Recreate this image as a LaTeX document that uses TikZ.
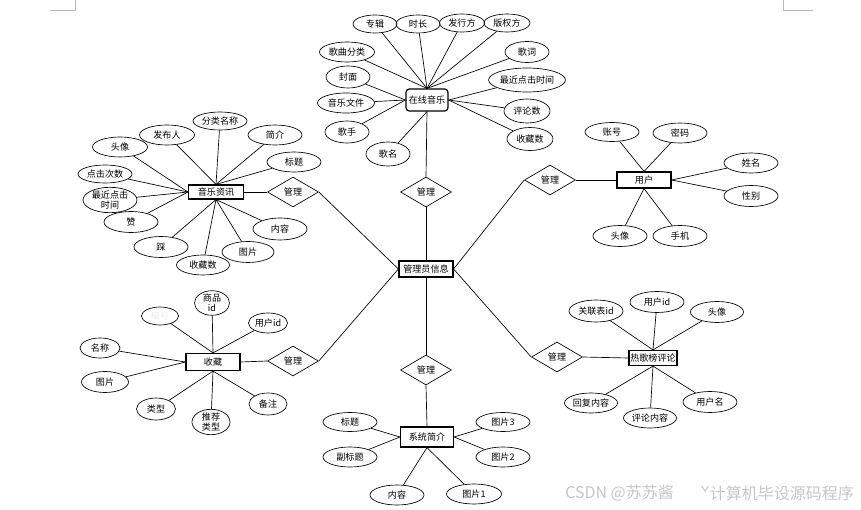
\documentclass[tikz,border=0pt]{standalone}
\usepackage{fontspec}
\setmainfont{Noto Sans CJK SC}
\usetikzlibrary{shapes.geometric}
\begin{document}
\begin{tikzpicture}[x=0.75pt,y=-0.75pt,
  font=\fontsize{6.8}{7.2}\selectfont,
  attr/.style n args={2}{ellipse,draw,line width=0.5pt,minimum width=#1*0.75pt,minimum height=#2*0.75pt,inner sep=0pt,align=center},
  ent/.style n args={2}{rectangle,draw,line width=0.9pt,minimum width=#1*0.75pt,minimum height=#2*0.75pt,inner sep=0pt,fill=white},
  rel/.style={diamond,draw,line width=0.5pt,minimum width=51*0.75pt,minimum height=30*0.75pt,inner sep=0pt,shape aspect=1.7},
  conn/.style={line width=0.5pt},
  wm/.style={text=gray!45,font=\fontsize{12}{13}\selectfont,anchor=west,inner sep=0pt}]
\useasboundingbox (0,0) rectangle (861,510);
% crop marks
\draw[gray!55,line width=0.5pt] (50,10) -- (75,10) -- (75,0);
\draw[gray!55,line width=0.5pt] (783,0) -- (783,10) -- (813,10);

% central
\node[ent={54}{16}] (admin) at (426,269) {管理员信息};

% relations
\node[rel] (r3) at (426,192) {管理};
\node[rel] (r1) at (293,192) {管理};
\node[rel] (r2) at (550,180) {管理};
\node[rel] (r4) at (293,361) {管理};
\node[rel] (r5) at (557,357) {管理};
\node[rel] (r6) at (426,370) {管理};

% ===== 在线音乐 =====
\node[ent={42}{22},rounded corners=2.5pt] (mus) at (427,100) {在线音乐};
\node[attr={44}{18}] (m1) at (375,24) {专辑};
\node[attr={44}{18}] (m2) at (418,24) {时长};
\node[attr={45}{18}] (m3) at (462,23) {发行方};
\node[attr={46}{18}] (m4) at (507,23) {版权方};
\node[attr={55}{20}] (m5) at (347,52) {歌曲分类};
\node[attr={44}{22}] (m6) at (348,77) {封面};
\node[attr={57}{20}] (m7) at (346,103) {音乐文件};
\node[attr={44}{22}] (m8) at (347,132) {歌手};
\node[attr={44}{24}] (m9) at (388,154) {歌名};
\node[attr={44}{21}] (m10) at (527,52) {歌词};
\node[attr={73}{24}] (m11) at (527,80) {最近点击时间};
\node[attr={46}{24}] (m12) at (527,111) {评论数};
\node[attr={46}{23}] (m13) at (530,139) {收藏数};
\foreach \a in {m1,m2,m3,m4,m5,m10} \draw[conn] (\a) -- (mus.north);
\foreach \a in {m6,m7,m8} \draw[conn] (\a) -- (mus.west);
\foreach \a in {m11,m12,m13} \draw[conn] (\a) -- (mus.east);
\draw[conn] (m9) -- (mus.south);

% ===== 音乐资讯 =====
\node[ent={55}{14}] (news) at (216,192) {音乐资讯};
\node[attr={54}{18}] (n1) at (220,121) {分类名称};
\node[attr={55}{20}] (n2) at (167,135) {发布人};
\node[attr={54}{20}] (n3) at (275,135) {简介};
\node[attr={55}{20}] (n4) at (120,147) {头像};
\node[attr={54}{20}] (n5) at (294,162) {标题};
\node[attr={54}{18}] (n6) at (105,174) {点击次数};
\node[attr={54}{20}] (n7) at (110,200) {最近点击\\时间};
\node[attr={54}{21}] (n8) at (131,222) {赞};
\node[attr={54}{21}] (n9) at (161,247) {踩};
\node[attr={53}{20}] (n10) at (203,265) {收藏数};
\node[attr={52}{21}] (n11) at (248,252) {图片};
\node[attr={54}{22}] (n12) at (280,229) {内容};
\foreach \a in {n1,n2,n3,n5} \draw[conn] (\a) -- (news.north);
\foreach \a in {n4,n6,n7,n8} \draw[conn] (\a) -- (news.west);
\foreach \a in {n9,n10,n11,n12} \draw[conn] (\a) -- (news.south);

% ===== 用户 =====
\node[ent={54}{16}] (user) at (644,180) {用户};
\node[attr={54}{19}] (u1) at (612,132) {账号};
\node[attr={54}{20}] (u2) at (680,133) {密码};
\node[attr={54}{20}] (u3) at (751,163) {姓名};
\node[attr={54}{21}] (u4) at (751,196) {性别};
\node[attr={54}{21}] (u5) at (620,236) {头像};
\node[attr={54}{21}] (u6) at (680,236) {手机};
\foreach \a in {u1,u2} \draw[conn] (\a) -- (user.north);
\foreach \a in {u3,u4} \draw[conn] (\a) -- (user.east);
\foreach \a in {u5,u6} \draw[conn] (\a) -- (user.south);

% ===== 收藏 =====
\node[ent={54}{17}] (fav) at (213,362) {收藏};
\node[attr={37}{18}] (f1) at (160,316) {\textcolor{gray!15}{编号}};
\node[attr={35}{22}] (f2) at (212,303) {商品\\id};
\node[attr={39}{20}] (f3) at (268,323) {用户id};
\node[attr={40}{20}] (f4) at (100,348) {名称};
\node[attr={47}{21}] (f5) at (105,382) {图片};
\node[attr={39}{22}] (f6) at (156,409) {类型};
\node[attr={38}{22}] (f7) at (211,422) {推荐\\类型};
\node[attr={38}{22}] (f8) at (268,404) {备注};
\foreach \a in {f1,f2,f3} \draw[conn] (\a) -- (fav.north);
\foreach \a in {f4,f5} \draw[conn] (\a) -- (fav.west);
\foreach \a in {f6,f7,f8} \draw[conn] (\a) -- (fav.south);

% ===== 热歌榜评论 =====
\node[ent={48}{15}] (cmt) at (653,358) {热歌榜评论};
\node[attr={54}{22}] (c1) at (596,311) {关联表id};
\node[attr={54}{21}] (c2) at (657,302) {用户id};
\node[attr={53}{21}] (c3) at (717,312) {头像};
\node[attr={53}{20}] (c4) at (591,403) {回复内容};
\node[attr={53}{20}] (c5) at (650,418) {评论内容};
\node[attr={54}{21}] (c6) at (710,402) {用户名};
\foreach \a in {c1,c2,c3} \draw[conn] (\a) -- (cmt.north);
\foreach \a in {c4,c5,c6} \draw[conn] (\a) -- (cmt.south);

% ===== 系统简介 =====
\node[ent={53}{20}] (sys) at (427,437) {系统简介};
\node[attr={54}{19}] (s1) at (350,422) {标题};
\node[attr={54}{20}] (s2) at (350,457) {副标题};
\node[attr={54}{19}] (s3) at (503,422) {图片3};
\node[attr={54}{20}] (s4) at (503,457) {图片2};
\node[attr={54}{20}] (s5) at (397,495) {内容};
\node[attr={55}{20}] (s6) at (474,494) {图片1};
\foreach \a in {s1,s2} \draw[conn] (\a) -- (sys.west);
\foreach \a in {s3,s4} \draw[conn] (\a) -- (sys.east);
\foreach \a in {s5,s6} \draw[conn] (\a) -- (sys.south);

% ===== relation links =====
\draw[conn] (mus.south) -- (r3.north);
\draw[conn] (r3.south) -- (admin.north);
\draw[conn] (news.east) -- (r1.west);
\draw[conn] (r1.east) -- (admin.west);
\draw[conn] (r2.east) -- (user.west);
\draw[conn] (r2.west) -- (admin.east);
\draw[conn] (fav.east) -- (r4.west);
\draw[conn] (r4.east) -- (admin.west);
\draw[conn] (r5.east) -- (cmt.west);
\draw[conn] (r5.west) -- (admin.east);
\draw[conn] (admin.south) -- (r6.north);
\draw[conn] (r6.south) -- (sys.north);

% watermark
\node[wm] (wm1) at (565,493) {CSDN @苏苏酱};
\node[wm] (wm2) at (700,493) {ˇ计算机毕设源码程序};
\end{tikzpicture}
\end{document}
